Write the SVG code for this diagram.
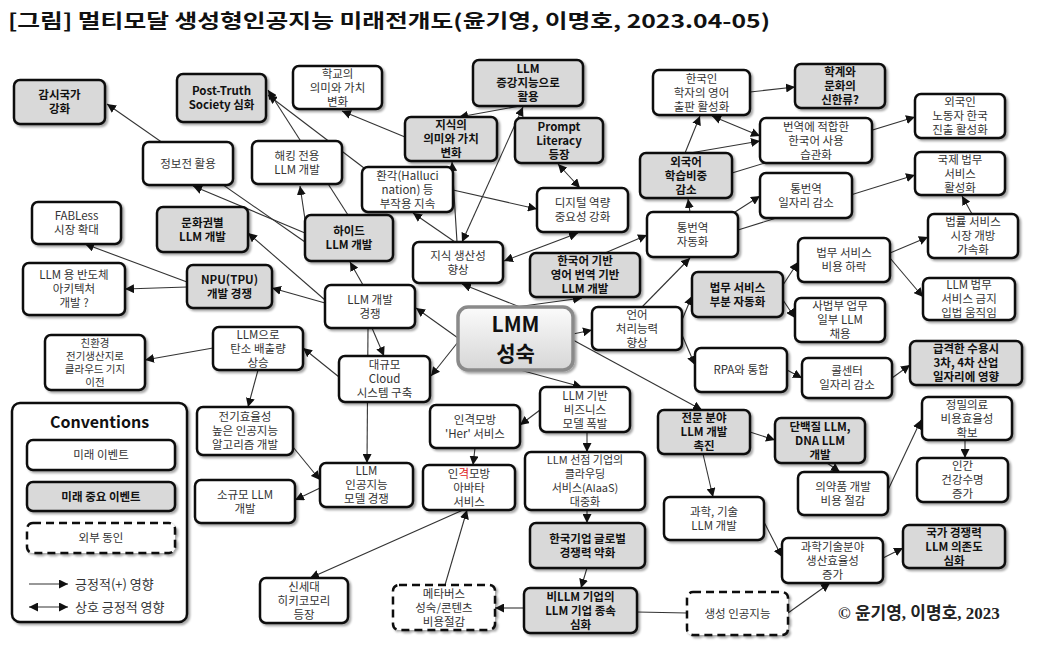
<svg xmlns="http://www.w3.org/2000/svg" width="1037" height="651" viewBox="0 0 1037 651">
<defs>
<style>
.n{stroke:#111;stroke-width:2.5;filter:url(#sh)}
.w{fill:#fff}
.g{fill:#d9d9d9}
.d{fill:#fff;stroke-dasharray:8 5}
.t{font-family:"Noto Sans CJK KR","Noto Sans",sans-serif;font-size:11.5px;fill:#333;text-anchor:middle}
.b{font-weight:bold;fill:#111}
.c line{stroke:#333;stroke-width:1.1;marker-end:url(#ah)}
.c line.bi{marker-start:url(#ahs)}
.c line.pl{marker-end:none}
</style>
<filter id="sh" x="-10%" y="-10%" width="125%" height="130%"><feDropShadow dx="2" dy="2" stdDeviation="1" flood-color="#000" flood-opacity="0.35"/></filter>
<linearGradient id="cg" x1="0" y1="0" x2="0" y2="1"><stop offset="0" stop-color="#fbfbfb"/><stop offset="1" stop-color="#d6d6d6"/></linearGradient>
<marker id="ah" viewBox="0 0 10 10" refX="10" refY="5" markerWidth="9" markerHeight="9" markerUnits="userSpaceOnUse" orient="auto"><path d="M0,0L10,5L0,10z" fill="#111"/></marker>
<marker id="ahs" viewBox="0 0 10 10" refX="0" refY="5" markerWidth="9" markerHeight="9" markerUnits="userSpaceOnUse" orient="auto"><path d="M10,0L0,5L10,10z" fill="#111"/></marker>
</defs>
<rect width="1037" height="651" fill="#fff"/>
<text x="8" y="28" font-family="Noto Sans CJK KR,Noto Sans,sans-serif" font-size="19" font-weight="bold" fill="#111" textLength="762" lengthAdjust="spacingAndGlyphs">[그림] 멀티모달 생성형인공지능 미래전개도(윤기영, 이명호, 2023.04-05)</text>

<g id="connectors" class="c">
<line x1="305" y1="242" x2="107" y2="104"/>
<line x1="305" y1="233" x2="193" y2="186"/>
<line x1="306" y1="226" x2="300" y2="186"/>
<line x1="348" y1="215" x2="268" y2="90"/>
<line x1="364" y1="168" x2="268" y2="95"/>
<line x1="405" y1="137" x2="342" y2="111"/>
<line x1="455" y1="242" x2="413" y2="213"/>
<line x1="457" y1="242" x2="452" y2="162"/>
<line class="bi" x1="462" y1="242" x2="523" y2="107"/>
<line x1="520" y1="106" x2="459" y2="117"/>
<line class="bi" x1="558" y1="164" x2="580" y2="188"/>
<line x1="453" y1="190" x2="537" y2="209"/>
<line class="bi" x1="504" y1="261" x2="578" y2="233"/>
<line x1="605" y1="253" x2="647" y2="235"/>
<line x1="516" y1="307" x2="582" y2="298"/>
<line x1="520" y1="307" x2="462" y2="284"/>
<line x1="458" y1="338" x2="416" y2="308"/>
<line x1="458" y1="342" x2="431" y2="376"/>
<line x1="573" y1="334" x2="592" y2="330"/>
<line x1="573" y1="340" x2="702" y2="410"/>
<line x1="520" y1="370" x2="582" y2="387"/>
<line x1="642" y1="307" x2="690" y2="258"/>
<line x1="682" y1="320" x2="692" y2="296"/>
<line x1="682" y1="335" x2="695" y2="365"/>
<line x1="690" y1="212" x2="688" y2="199"/>
<line x1="735" y1="212" x2="760" y2="196"/>
<line x1="685" y1="153" x2="700" y2="116"/>
<line x1="690" y1="153" x2="760" y2="141"/>
<line class="bi" x1="712" y1="116" x2="760" y2="136"/>
<line x1="750" y1="92" x2="795" y2="87"/>
<line x1="732" y1="173" x2="915" y2="117"/>
<line x1="738" y1="230" x2="915" y2="175"/>
<line x1="972" y1="214" x2="962" y2="196"/>
<line x1="890" y1="253" x2="928" y2="237"/>
<line x1="890" y1="258" x2="923" y2="297"/>
<line x1="783" y1="285" x2="798" y2="262"/>
<line x1="783" y1="300" x2="795" y2="318"/>
<line x1="787" y1="370" x2="802" y2="378"/>
<line x1="892" y1="378" x2="910" y2="365"/>
<line x1="750" y1="432" x2="775" y2="440"/>
<line x1="703" y1="454" x2="713" y2="497"/>
<line x1="827" y1="463" x2="840" y2="472"/>
<line x1="888" y1="490" x2="921" y2="420"/>
<line x1="965" y1="440" x2="965" y2="458"/>
<line x1="764" y1="522" x2="782" y2="557"/>
<line x1="788" y1="613" x2="830" y2="583"/>
<line x1="883" y1="558" x2="903" y2="548"/>
<line class="pl" x1="687" y1="613" x2="637" y2="612"/>
<line x1="524" y1="608" x2="495" y2="608"/>
<line x1="587" y1="568" x2="581" y2="588"/>
<line x1="587" y1="510" x2="587" y2="523"/>
<line x1="587" y1="432" x2="587" y2="452"/>
<line x1="540" y1="410" x2="520" y2="425"/>
<line x1="475" y1="448" x2="473" y2="465"/>
<line x1="445" y1="585" x2="467" y2="510"/>
<line x1="463" y1="510" x2="310" y2="578"/>
<line x1="372" y1="328" x2="384" y2="356"/>
<line x1="368" y1="328" x2="367" y2="463"/>
<line x1="339" y1="377" x2="303" y2="348"/>
<line x1="213" y1="348" x2="145" y2="360"/>
<line x1="258" y1="370" x2="248" y2="407"/>
<line x1="293" y1="447" x2="320" y2="480"/>
<line x1="320" y1="488" x2="295" y2="500"/>
<line x1="325" y1="303" x2="272" y2="288"/>
<line x1="363" y1="285" x2="350" y2="262"/>
<line x1="325" y1="300" x2="248" y2="233"/>
<line x1="187" y1="287" x2="125" y2="289"/>
<line x1="187" y1="282" x2="85" y2="244"/>
</g>

<g id="n1"><rect class="n g" x="14" y="80" width="91" height="44" rx="6"/><text class="t b"><tspan x="59.5" y="99">감시국가</tspan><tspan x="59.5" y="113">강화</tspan></text></g>
<g id="n2"><rect class="n g" x="177" y="74" width="89" height="48" rx="6"/><text class="t b"><tspan x="221.5" y="95">Post-Truth</tspan><tspan x="221.5" y="109">Society 심화</tspan></text></g>
<g id="n3"><rect class="n w" x="293" y="66" width="89" height="43" rx="6"/><text class="t"><tspan x="337.5" y="77.5">학교의</tspan><tspan x="337.5" y="91.5">의미와 가치</tspan><tspan x="337.5" y="105.5">변화</tspan></text></g>
<g id="n4"><rect class="n g" x="473" y="60" width="110" height="46" rx="6"/><text class="t b"><tspan x="528" y="73">LLM</tspan><tspan x="528" y="87">증강지능으로</tspan><tspan x="528" y="101">활용</tspan></text></g>
<g id="n5"><rect class="n g" x="405" y="117" width="92" height="44" rx="6"/><text class="t b"><tspan x="451" y="129">지식의</tspan><tspan x="451" y="143">의미와 가치</tspan><tspan x="451" y="157">변화</tspan></text></g>
<g id="n6"><rect class="n g" x="515" y="118" width="88" height="45" rx="6"/><text class="t b"><tspan x="559" y="130.5">Prompt</tspan><tspan x="559" y="144.5">Literacy</tspan><tspan x="559" y="158.5">등장</tspan></text></g>
<g id="n7"><rect class="n w" x="653" y="70" width="97" height="45" rx="6"/><text class="t"><tspan x="701.5" y="82.5">한국인</tspan><tspan x="701.5" y="96.5">학자의 영어</tspan><tspan x="701.5" y="110.5">출판 활성화</tspan></text></g>
<g id="n8"><rect class="n g" x="795" y="64" width="90" height="44" rx="6"/><text class="t b"><tspan x="840" y="76">학계와</tspan><tspan x="840" y="90">문화의</tspan><tspan x="840" y="104">신한류?</tspan></text></g>
<g id="n9"><rect class="n w" x="760" y="118" width="112" height="45" rx="6"/><text class="t"><tspan x="816" y="130.5">번역에 적합한</tspan><tspan x="816" y="144.5">한국어 사용</tspan><tspan x="816" y="158.5">습관화</tspan></text></g>
<g id="n10"><rect class="n w" x="915" y="94" width="90" height="44" rx="6"/><text class="t"><tspan x="960" y="106">외국인</tspan><tspan x="960" y="120">노동자 한국</tspan><tspan x="960" y="134">진출 활성화</tspan></text></g>
<g id="n11"><rect class="n g" x="640" y="153" width="92" height="45" rx="6"/><text class="t b"><tspan x="686" y="165.5">외국어</tspan><tspan x="686" y="179.5">학습비중</tspan><tspan x="686" y="193.5">감소</tspan></text></g>
<g id="n12"><rect class="n w" x="760" y="173" width="92" height="45" rx="6"/><text class="t"><tspan x="806" y="192.5">통번역</tspan><tspan x="806" y="206.5">일자리 감소</tspan></text></g>
<g id="n13"><rect class="n w" x="915" y="152" width="90" height="43" rx="6"/><text class="t"><tspan x="960" y="163.5">국제 법무</tspan><tspan x="960" y="177.5">서비스</tspan><tspan x="960" y="191.5">활성화</tspan></text></g>
<g id="n14"><rect class="n w" x="537" y="188" width="91" height="44" rx="6"/><text class="t"><tspan x="582.5" y="207">디지털 역량</tspan><tspan x="582.5" y="221">중요성 강화</tspan></text></g>
<g id="n15"><rect class="n w" x="647" y="212" width="91" height="45" rx="6"/><text class="t"><tspan x="692.5" y="231.5">통번역</tspan><tspan x="692.5" y="245.5">자동화</tspan></text></g>
<g id="n16"><rect class="n w" x="928" y="214" width="90" height="44" rx="6"/><text class="t"><tspan x="973" y="226">법률 서비스</tspan><tspan x="973" y="240">시장 개방</tspan><tspan x="973" y="254">가속화</tspan></text></g>
<g id="n17"><rect class="n w" x="362" y="167" width="91" height="45" rx="6"/><text class="t"><tspan x="407.5" y="179.5">환각(Halluci</tspan><tspan x="407.5" y="193.5">nation) 등</tspan><tspan x="407.5" y="207.5">부작용 지속</tspan></text></g>
<g id="n18"><rect class="n w" x="143" y="142" width="90" height="43" rx="6"/><text class="t"><tspan x="188" y="167.5">정보전 활용</tspan></text></g>
<g id="n19"><rect class="n w" x="252" y="141" width="90" height="43" rx="6"/><text class="t"><tspan x="297" y="159.5">해킹 전용</tspan><tspan x="297" y="173.5">LLM 개발</tspan></text></g>
<g id="n20"><rect class="n w" x="32" y="202" width="89" height="42" rx="6"/><text class="t"><tspan x="76.5" y="220">FABLess</tspan><tspan x="76.5" y="234">시장 확대</tspan></text></g>
<g id="n21"><rect class="n g" x="157" y="207" width="91" height="45" rx="6"/><text class="t b"><tspan x="202.5" y="226.5">문화권별</tspan><tspan x="202.5" y="240.5">LLM 개발</tspan></text></g>
<g id="n22"><rect class="n g" x="305" y="215" width="88" height="46" rx="6"/><text class="t b"><tspan x="349" y="235">하이드</tspan><tspan x="349" y="249">LLM 개발</tspan></text></g>
<g id="n23"><rect class="n w" x="413" y="242" width="90" height="41" rx="6"/><text class="t"><tspan x="458" y="259.5">지식 생산성</tspan><tspan x="458" y="273.5">향상</tspan></text></g>
<g id="n24"><rect class="n g" x="530" y="253" width="110" height="44" rx="6"/><text class="t b"><tspan x="585" y="265">한국어 기반</tspan><tspan x="585" y="279">영어 번역 기반</tspan><tspan x="585" y="293">LLM 개발</tspan></text></g>
<g id="n25"><rect class="n w" x="798" y="238" width="92" height="44" rx="6"/><text class="t"><tspan x="844" y="257">법무 서비스</tspan><tspan x="844" y="271">비용 하락</tspan></text></g>
<g id="n26"><rect class="n g" x="692" y="272" width="91" height="45" rx="6"/><text class="t b"><tspan x="737.5" y="291.5">법무 서비스</tspan><tspan x="737.5" y="305.5">부분 자동화</tspan></text></g>
<g id="n27"><rect class="n w" x="923" y="278" width="92" height="42" rx="6"/><text class="t"><tspan x="969" y="289">LLM 법무</tspan><tspan x="969" y="303">서비스 금지</tspan><tspan x="969" y="317">입법 움직임</tspan></text></g>
<g id="n28"><rect class="n w" x="23" y="263" width="102" height="52" rx="6"/><text class="t"><tspan x="74" y="279">LLM 용 반도체</tspan><tspan x="74" y="293">아키텍처</tspan><tspan x="74" y="307">개발 ?</tspan></text></g>
<g id="n29"><rect class="n g" x="187" y="265" width="85" height="43" rx="6"/><text class="t b"><tspan x="229.5" y="283.5">NPU(TPU)</tspan><tspan x="229.5" y="297.5">개발 경쟁</tspan></text></g>
<g id="n30"><rect class="n w" x="325" y="285" width="90" height="43" rx="6"/><text class="t"><tspan x="370" y="303.5">LLM 개발</tspan><tspan x="370" y="317.5">경쟁</tspan></text></g>
<g id="n31"><rect x="458" y="307" width="115" height="63" rx="10" fill="url(#cg)" stroke="#8a8a8a" stroke-width="3.5" filter="url(#sh)"/><text class="t b" style="font-size:21px"><tspan x="515.5" y="332">LMM</tspan><tspan x="515.5" y="361">성숙</tspan></text></g>
<g id="n32"><rect class="n w" x="592" y="307" width="90" height="43" rx="6"/><text class="t"><tspan x="637" y="318.5">언어</tspan><tspan x="637" y="332.5">처리능력</tspan><tspan x="637" y="346.5">향상</tspan></text></g>
<g id="n33"><rect class="n w" x="795" y="298" width="90" height="44" rx="6"/><text class="t"><tspan x="840" y="310">사법부 업무</tspan><tspan x="840" y="324">일부 LLM</tspan><tspan x="840" y="338">채용</tspan></text></g>
<g id="n34"><rect class="n w" x="213" y="327" width="90" height="43" rx="6"/><text class="t"><tspan x="258" y="338.5">LLM으로</tspan><tspan x="258" y="352.5">탄소 배출량</tspan><tspan x="258" y="366.5">상승</tspan></text></g>
<g id="n35"><rect class="n w" x="45" y="335" width="100" height="55" rx="6"/><text class="t" style="font-size:10.5px"><tspan x="95" y="347">친환경</tspan><tspan x="95" y="360">전기생산지로</tspan><tspan x="95" y="373">클라우드 기지</tspan><tspan x="95" y="386">이전</tspan></text></g>
<g id="n36"><rect class="n w" x="339" y="356" width="91" height="46" rx="6"/><text class="t"><tspan x="384.5" y="369">대규모</tspan><tspan x="384.5" y="383">Cloud</tspan><tspan x="384.5" y="397">시스템 구축</tspan></text></g>
<g id="n37"><rect class="n w" x="695" y="348" width="92" height="44" rx="6"/><text class="t"><tspan x="741" y="374">RPA와 통합</tspan></text></g>
<g id="n38"><rect class="n w" x="802" y="358" width="90" height="40" rx="6"/><text class="t"><tspan x="847" y="375">콜센터</tspan><tspan x="847" y="389">일자리 감소</tspan></text></g>
<g id="n39"><rect class="n g" x="910" y="341" width="112" height="44" rx="6"/><text class="t b"><tspan x="966" y="353">급격한 수용시</tspan><tspan x="966" y="367">3차, 4차 산업</tspan><tspan x="966" y="381">일자리에 영향</tspan></text></g>
<g id="n40"><rect class="n w" x="540" y="387" width="90" height="45" rx="6"/><text class="t"><tspan x="585" y="399.5">LLM 기반</tspan><tspan x="585" y="413.5">비즈니스</tspan><tspan x="585" y="427.5">모델 폭발</tspan></text></g>
<g id="n41"><rect class="n w" x="430" y="405" width="90" height="43" rx="6"/><text class="t"><tspan x="475" y="423.5">인격모방</tspan><tspan x="475" y="437.5">'Her' 서비스</tspan></text></g>
<g id="n42"><rect class="n w" x="197" y="407" width="96" height="48" rx="6"/><text class="t"><tspan x="245" y="421">전기효율성</tspan><tspan x="245" y="435">높은 인공지능</tspan><tspan x="245" y="449">알고리즘 개발</tspan></text></g>
<g id="n43"><rect class="n g" x="658" y="410" width="92" height="44" rx="6"/><text class="t b"><tspan x="704" y="422">전문 분야</tspan><tspan x="704" y="436">LLM 개발</tspan><tspan x="704" y="450">촉진</tspan></text></g>
<g id="n44"><rect class="n g" x="775" y="418" width="90" height="45" rx="6"/><text class="t b"><tspan x="820" y="430.5">단백질 LLM,</tspan><tspan x="820" y="444.5">DNA LLM</tspan><tspan x="820" y="458.5">개발</tspan></text></g>
<g id="n45"><rect class="n w" x="922" y="397" width="90" height="43" rx="6"/><text class="t"><tspan x="967" y="408.5">정밀의료</tspan><tspan x="967" y="422.5">비용효율성</tspan><tspan x="967" y="436.5">확보</tspan></text></g>
<g id="n46"><rect class="n w" x="320" y="463" width="93" height="44" rx="6"/><text class="t"><tspan x="366.5" y="475">LLM</tspan><tspan x="366.5" y="489">인공지능</tspan><tspan x="366.5" y="503">모델 경쟁</tspan></text></g>
<g id="n47"><rect class="n w" x="423" y="465" width="92" height="45" rx="6"/><text class="t"><tspan x="469" y="477.5">인<tspan fill="#e02020">격</tspan>모방</tspan><tspan x="469" y="491.5">아바타</tspan><tspan x="469" y="505.5">서비스</tspan></text></g>
<g id="n48"><rect class="n w" x="525" y="452" width="120" height="58" rx="6"/><text class="t" style="font-size:11px"><tspan x="585" y="464">LLM 선점 기업의</tspan><tspan x="585" y="478">클라우딩</tspan><tspan x="585" y="492">서비스(AIaaS)</tspan><tspan x="585" y="506">대중화</tspan></text></g>
<g id="n49"><rect class="n w" x="195" y="480" width="100" height="43" rx="6"/><text class="t"><tspan x="245" y="498.5">소규모 LLM</tspan><tspan x="245" y="512.5">개발</tspan></text></g>
<g id="n50"><rect class="n w" x="664" y="497" width="100" height="43" rx="6"/><text class="t"><tspan x="714" y="515.5">과학, 기술</tspan><tspan x="714" y="529.5">LLM 개발</tspan></text></g>
<g id="n51"><rect class="n w" x="798" y="472" width="90" height="43" rx="6"/><text class="t"><tspan x="843" y="490.5">의약품 개발</tspan><tspan x="843" y="504.5">비용 절감</tspan></text></g>
<g id="n52"><rect class="n w" x="917" y="458" width="91" height="44" rx="6"/><text class="t"><tspan x="962.5" y="470">인간</tspan><tspan x="962.5" y="484">건강수명</tspan><tspan x="962.5" y="498">증가</tspan></text></g>
<g id="n53"><rect class="n g" x="530" y="523" width="115" height="45" rx="6"/><text class="t b"><tspan x="587.5" y="542.5">한국기업 글로벌</tspan><tspan x="587.5" y="556.5">경쟁력 약화</tspan></text></g>
<g id="n54"><rect class="n w" x="782" y="538" width="101" height="45" rx="6"/><text class="t"><tspan x="832.5" y="550.5">과학기술분야</tspan><tspan x="832.5" y="564.5">생산효율성</tspan><tspan x="832.5" y="578.5">증가</tspan></text></g>
<g id="n55"><rect class="n g" x="903" y="525" width="102" height="43" rx="6"/><text class="t b"><tspan x="954" y="536.5">국가 경쟁력</tspan><tspan x="954" y="550.5">LLM 의존도</tspan><tspan x="954" y="564.5">심화</tspan></text></g>
<g id="n56"><rect class="n w" x="260" y="578" width="88" height="45" rx="6"/><text class="t"><tspan x="304" y="590.5">신세대</tspan><tspan x="304" y="604.5">히키코모리</tspan><tspan x="304" y="618.5">등장</tspan></text></g>
<g id="n57"><rect class="n d" x="393" y="585" width="102" height="45" rx="6"/><text class="t"><tspan x="444" y="597.5">메타버스</tspan><tspan x="444" y="611.5">성숙/콘텐츠</tspan><tspan x="444" y="625.5">비용절감</tspan></text></g>
<g id="n58"><rect class="n g" x="524" y="588" width="113" height="45" rx="6"/><text class="t b"><tspan x="580.5" y="600.5">비LLM 기업의</tspan><tspan x="580.5" y="614.5">LLM 기업 종속</tspan><tspan x="580.5" y="628.5">심화</tspan></text></g>
<g id="n59"><rect class="n d" x="687" y="592" width="101" height="43" rx="6"/><text class="t"><tspan x="737.5" y="617.5">생성 인공지능</tspan></text></g>

<g id="legend">
<rect class="n w" x="12" y="403" width="175" height="219" rx="8"/>
<text class="t b" x="99.5" y="428" style="font-size:16px">Conventions</text>
<rect class="n w" x="27" y="440" width="148" height="30" rx="6"/><text class="t" x="101" y="459">미래 이벤트</text>
<rect class="n g" x="27" y="482" width="148" height="29" rx="6"/><text class="t b" x="101" y="500.5">미래 중요 이벤트</text>
<rect class="n d" x="27" y="523" width="148" height="30" rx="6"/><text class="t" x="101" y="542">외부 동인</text>
<g class="c"><line x1="29" y1="584" x2="68" y2="584"/><line class="bi" x1="29" y1="607" x2="68" y2="607"/></g>
<text class="t" x="75" y="589" style="text-anchor:start;font-size:13px">긍정적(+) 영향</text>
<text class="t" x="75" y="612" style="text-anchor:start;font-size:13px">상호 긍정적 영향</text>
</g>
<text x="838" y="619" font-family="Liberation Serif,Noto Sans CJK KR,serif" font-size="17" font-weight="bold" fill="#222">© 윤기영, 이명호, 2023</text>
</svg>
